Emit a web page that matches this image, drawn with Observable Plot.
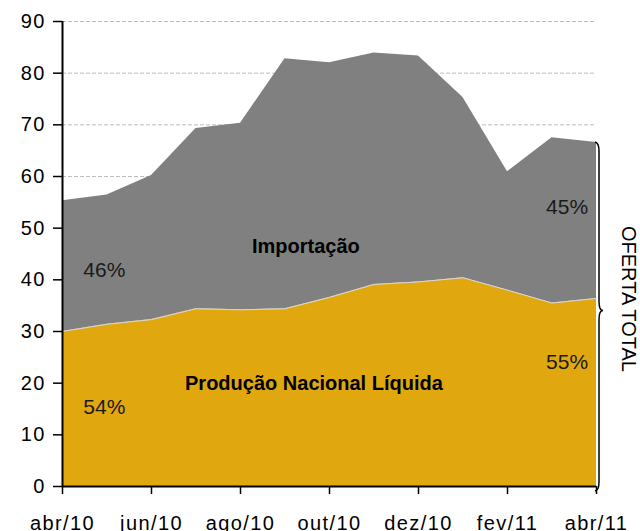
<!DOCTYPE html>
<html><head><meta charset="utf-8">
<script src="https://cdn.jsdelivr.net/npm/d3@7"></script>
<script src="https://cdn.jsdelivr.net/npm/@observablehq/plot@0.6"></script>
<style>
body{margin:0;background:#fff}
#chart svg{display:block}
#chart g[aria-label="y-axis tick label"] text{letter-spacing:1.2px}
#chart g[aria-label="x-axis tick label"] text{letter-spacing:1.4px}
</style>
</head><body><div id="chart"></div>
<script>
const meses = ["abr/10","mai/10","jun/10","jul/10","ago/10","set/10","out/10","nov/10","dez/10","jan/11","fev/11","mar/11","abr/11"];
const producao = [30.0,31.4,32.3,34.4,34.2,34.4,36.6,39.1,39.6,40.4,38.0,35.5,36.4];
const importacao = [25.3,25.0,27.9,34.9,36.1,48.4,45.4,44.8,43.7,34.9,22.9,32.0,30.2];
const yTicks = [0,10,20,30,40,50,60,70,80,90];
const xTickLabels = ["abr/10","jun/10","ago/10","out/10","dez/10","fev/11","abr/11"];
const series = ["Produção Nacional Líquida","Importação"];
const cores = ["#e0a80e","#808080"];
const pctLabels = ["54%","46%","55%","45%"];

const rows = [];
meses.forEach((m,i)=>{
  rows.push({i, mes:m, serie:series[0], valor:producao[i]});
  rows.push({i, mes:m, serie:series[1], valor:importacao[i]});
});
const total = producao.map((p,i)=>p+importacao[i]);
const last = meses.length-1;
const xTickIdx = xTickLabels.map(l=>meses.indexOf(l));

const brace = (index, {x, y}) => {
  const x0 = x(last) + 1;
  const yt = y(total[last]);
  const yb = y(0) + 5;
  const ym = (yt + yb) / 2 - 6;
  const p = d3.path();
  p.moveTo(x0 - 2, yt);
  p.quadraticCurveTo(x0 + 2, yt + 1, x0 + 2, yt + 9);
  p.lineTo(x0 + 2, ym - 9);
  p.quadraticCurveTo(x0 + 2, ym, x0 + 6, ym);
  p.quadraticCurveTo(x0 + 2, ym, x0 + 2, ym + 9);
  p.lineTo(x0 + 2, yb - 9);
  p.quadraticCurveTo(x0 + 2, yb - 1, x0 - 2, yb);
  return d3.create("svg:path")
    .attr("d", p.toString())
    .attr("fill", "none")
    .attr("stroke", "#000")
    .attr("stroke-width", 1.5)
    .node();
};

const chart = Plot.plot({
  width: 640,
  height: 531,
  marginLeft: 62,
  marginRight: 44,
  marginTop: 21,
  marginBottom: 45,
  style: {fontFamily: "'Liberation Sans', Arial, sans-serif", fontSize: "20px", color: "#000", background: "#fff", overflow: "visible"},
  x: {type: "linear", domain: [0, last]},
  y: {domain: [0, 90]},
  color: {domain: series, range: cores},
  marks: [
    Plot.ruleY(yTicks.filter(d=>d>0), {stroke: "#bdbdbd", strokeWidth: 1, strokeDasharray: "4,2"}),
    Plot.areaY(rows, {x: "i", y: "valor", fill: "serie", order: series}),
    Plot.lineY(rows.filter(d=>d.serie===series[0]), {x: "i", y: "valor", stroke: "#d8d8d8", strokeWidth: 1}),
    Plot.axisY({ticks: yTicks, tickSize: 9, tickPadding: 8, label: null, fontSize: 20, stroke: "#000", strokeWidth: 1.5}),
    Plot.axisX({ticks: xTickIdx, tickSize: 8, tickPadding: 21, tickFormat: i=>meses[i], label: null, fontSize: 20, stroke: "#000", strokeWidth: 1.5}),
    Plot.ruleX([0], {y1: 0, y2: 90, stroke: "#000", strokeWidth: 2}),
    Plot.ruleY([0], {stroke: "#000", strokeWidth: 2}),
    Plot.text([series[1]], {x: 5.47, y: 46.4, text: d=>d, fontWeight: "bold", fontSize: 20, fill: "#000", style: "letter-spacing:1.5px"}),
    Plot.text([series[0]], {x: 5.65, y: 19.9, text: d=>d, fontWeight: "bold", fontSize: 20, fill: "#000", style: "letter-spacing:0.9px"}),
    Plot.text([pctLabels[0]], {x: 0.94, y: 15.3, text: d=>d, fontSize: 21, fill: "#1a1a1a", style: "letter-spacing:1px"}),
    Plot.text([pctLabels[1]], {x: 0.94, y: 41.8, text: d=>d, fontSize: 21, fill: "#1a1a1a", style: "letter-spacing:1px"}),
    Plot.text([pctLabels[2]], {x: 11.34, y: 24.1, text: d=>d, fontSize: 21, fill: "#1a1a1a", style: "letter-spacing:1px"}),
    Plot.text([pctLabels[3]], {x: 11.34, y: 54.1, text: d=>d, fontSize: 21, fill: "#1a1a1a", style: "letter-spacing:1px"}),
    brace,
    Plot.text(["OFERTA TOTAL"], {x: last, y: 36.3, dx: 32, rotate: 90, text: d=>d, fontSize: 20, fill: "#000", style: "letter-spacing:0.5px"})
  ]
});
document.getElementById("chart").appendChild(chart);
</script>
</body></html>
